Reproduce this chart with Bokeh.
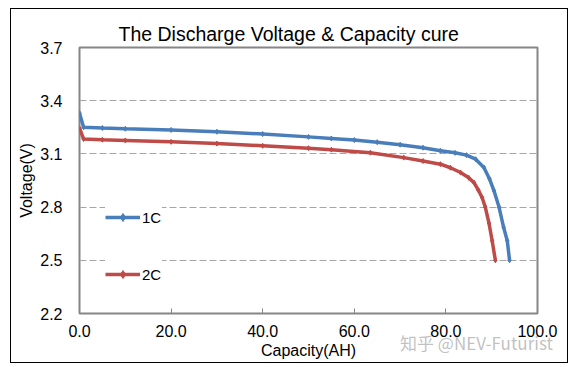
from bokeh.plotting import figure
from bokeh.models import FixedTicker, Range1d, Legend, LegendItem, InlineStyleSheet
from bokeh.embed import file_html
from bokeh.resources import INLINE

# ---- data ----
cap_1c = [0, 0.9, 5, 10, 20, 30, 40, 50, 55, 60, 65, 70, 75, 78.8, 82, 84.5,
          86.5, 88.3, 89.5, 90.5, 91.6, 92.6, 93.4, 93.9]
volt_1c = [3.330, 3.250, 3.246, 3.242, 3.235, 3.225, 3.212, 3.196, 3.187, 3.178,
           3.166, 3.152, 3.135, 3.118, 3.106, 3.093, 3.070, 3.023, 2.960, 2.892,
           2.800, 2.686, 2.610, 2.500]

cap_2c = [0, 0.9, 5, 10, 20, 30, 40, 50, 55, 63.5, 70.8, 75, 78.8, 81, 83.2, 85,
          86.1, 87.1, 87.9, 88.6, 89.4, 90.1, 90.8]
volt_2c = [3.245, 3.184, 3.180, 3.176, 3.168, 3.158, 3.146, 3.132, 3.124, 3.107,
           3.079, 3.060, 3.042, 3.022, 2.995, 2.965, 2.939, 2.895, 2.854, 2.800,
           2.710, 2.610, 2.500]

series_names = ["1C", "2C"]
x_ticks = [0, 20, 40, 60, 80, 100]
x_tick_labels = ["0.0", "20.0", "40.0", "60.0", "80.0", "100.0"]
y_ticks = [2.2, 2.5, 2.8, 3.1, 3.4, 3.7]
y_tick_labels = ["2.2", "2.5", "2.8", "3.1", "3.4", "3.7"]
title_text = "The Discharge Voltage & Capacity cure"
watermark_text = "知乎 @NEV-Futurist"

FONT = "Liberation Sans"
BLUE = "#4A7EBB"
RED = "#BE4B48"

p = figure(width=572, height=367, output_backend="svg", toolbar_location=None,
           x_range=Range1d(0, 100), y_range=Range1d(2.2, 3.7),
           min_border_left=79, min_border_right=35, min_border_top=47,
           min_border_bottom=54)

# outer chart border and watermark drawn as overlay via the figure's stylesheet
css = """
:host { position: relative; }
:host::before {
  content: "";
  position: absolute; left: 10px; top: 8px; width: 556px; height: 353px;
  border: 1px solid #000000; pointer-events: none; z-index: 50;
}
:host::after {
  content: "%s";
  position: absolute; left: 400px; top: 333px;
  font-family: "Noto Sans CJK SC"; font-size: 17px; line-height: 20px;
  color: rgba(140,140,140,0.55); white-space: nowrap;
  pointer-events: none; z-index: 51;
}
""" % watermark_text
p.stylesheets = [InlineStyleSheet(css=css)]

p.title.text = title_text
p.title.text_font = FONT
p.title.text_font_size = "19.5px"
p.title.text_font_style = "normal"
p.title.text_color = "#000000"
p.title.align = "left"
p.title.offset = 39
p.title.standoff = 6

p.outline_line_color = "#868686"
p.outline_line_width = 2
p.background_fill_color = "white"
p.border_fill_color = "white"

# axes
p.xaxis.ticker = FixedTicker(ticks=x_ticks)
p.xaxis.major_label_overrides = {t: l for t, l in zip(x_ticks, x_tick_labels)}
p.yaxis.ticker = FixedTicker(ticks=y_ticks)
p.yaxis.major_label_overrides = {t: l for t, l in zip(y_ticks, y_tick_labels)}
for ax in (p.xaxis, p.yaxis):
    ax.axis_line_color = None
    ax.minor_tick_line_color = None
    ax.major_label_text_font = FONT
    ax.major_label_text_font_size = "16px"
    ax.major_label_text_color = "#000000"
    ax.axis_label_text_font = FONT
    ax.axis_label_text_font_size = "16px"
    ax.axis_label_text_font_style = "normal"
    ax.axis_label_text_color = "#000000"
p.xaxis.major_tick_in = 5
p.xaxis.major_tick_out = 0
p.xaxis.major_tick_line_color = "#868686"
p.xaxis.major_tick_line_width = 1
p.xaxis.major_label_standoff = 11
p.xaxis.axis_label = "Capacity(AH)"
p.xaxis.axis_label_standoff = 2
p.yaxis.major_tick_line_color = None
p.yaxis.major_tick_in = 0
p.yaxis.major_tick_out = 0
p.yaxis.major_label_standoff = 17
p.yaxis.axis_label = "Voltage(V)"
p.yaxis.axis_label_standoff = 2

p.xgrid.grid_line_color = None
p.ygrid.grid_line_color = "#A6A6A6"
p.ygrid.grid_line_width = 1
p.ygrid.grid_line_dash = "7 3"

# series
l1 = p.line(cap_1c, volt_1c, line_color=BLUE, line_width=3.5)
m1 = p.scatter(cap_1c, volt_1c, marker="diamond", size=5, fill_color=BLUE,
               line_color=BLUE)
l2 = p.line(cap_2c, volt_2c, line_color=RED, line_width=3.5)
m2 = p.scatter(cap_2c, volt_2c, marker="diamond", size=5, fill_color=RED,
               line_color=RED)

legend = Legend(items=[LegendItem(label=series_names[0], renderers=[l1, m1]),
                       LegendItem(label=series_names[1], renderers=[l2, m2])],
                location=(26, 29), glyph_width=35, glyph_height=20, spacing=37,
                padding=12, margin=0, label_standoff=2,
                label_text_font=FONT, label_text_font_size="15px",
                label_text_color="#000000",
                background_fill_color="white", background_fill_alpha=1.0,
                border_line_color=None)
p.add_layout(legend, "center")

open("out.html", "w").write(file_html(p, INLINE))
